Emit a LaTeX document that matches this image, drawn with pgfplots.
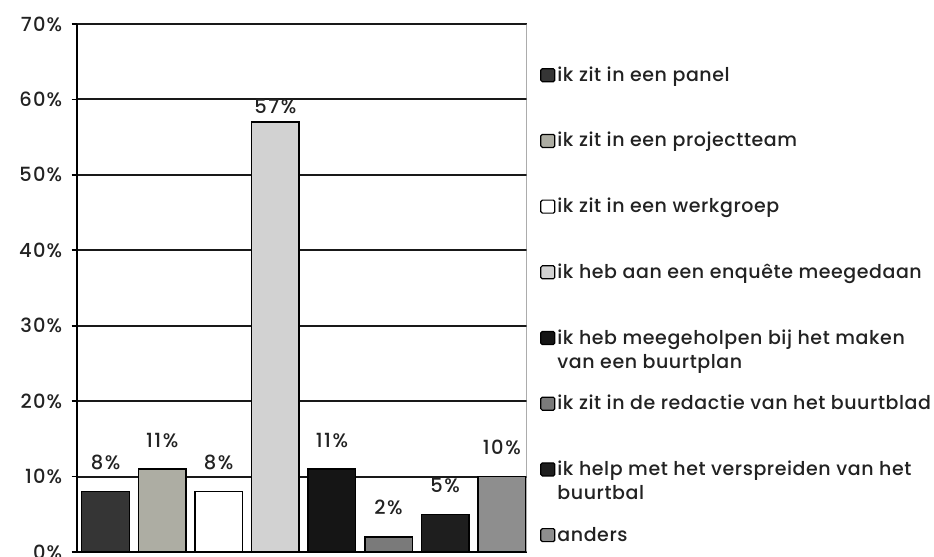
\documentclass[border=0pt]{standalone}
\usepackage{pgfplots}
\pgfplotsset{compat=1.18}
\usepackage{fontspec}
\setmainfont{Poppins}[UprightFont={* Medium}]
\definecolor{txt}{HTML}{222222}
\definecolor{cA}{HTML}{353535}
\definecolor{cB}{HTML}{ADADA3}
\definecolor{cC}{HTML}{FFFFFF}
\definecolor{cD}{HTML}{D2D2D2}
\definecolor{cE}{HTML}{151515}
\definecolor{cF}{HTML}{7A7A7A}
\definecolor{cG}{HTML}{1E1E1E}
\definecolor{cH}{HTML}{8E8E8E}
\begin{document}
\begin{tikzpicture}[x=1bp,y=1bp]
\useasboundingbox (-76.7bp,-5bp) rectangle (857.3bp,552bp);
\begin{axis}[
  scale only axis, width=450bp, height=528bp,
  ybar, bar width=0.84, bar shift=0pt,
  xmin=-0.509, xmax=7.44,
  ymin=0, ymax=70,
  ytick={0,10,...,70},
  xtick=\empty,
  axis y line*=left, axis x line*=bottom,
  axis line style={line width=2bp, draw=black, -},
  ymajorgrids,
  major grid style={line width=2bp, draw=black!90},
  tick align=outside, major tick length=5bp,
  tick style={line width=1.6bp, black},
  /pgf/number format/assume math mode=true,
  yticklabel={\pgfmathprintnumber{\tick}\%},
  yticklabel style={font=\fontsize{19.5bp}{22bp}\selectfont\addfontfeature{LetterSpace=6}, text=txt, xshift=-6bp},
  nodes near coords={\pgfmathprintnumber{\pgfplotspointmeta}\%},
  every node near coord/.append style={font=\fontsize{19.5bp}{22bp}\selectfont\addfontfeature{LetterSpace=8}, text=txt, inner sep=0pt, anchor=south, yshift=21bp},
  every axis plot/.append style={draw=black, line width=1.5bp},
  legend style={draw=none, fill=none, inner sep=0pt, at={(rel axis cs:1,1)}, anchor=north west,
    xshift=13.3bp, yshift=-41bp, row sep=45.7bp,
    font=\fontsize{19bp}{24.5bp}\selectfont\addfontfeature{LetterSpace=3}, text=txt,
    nodes={inner ysep=2bp, inner xsep=2bp, text height=14bp, text depth=2bp},
    cells={anchor=west}},
  legend image code/.code={\draw[#1, line width=1.2bp, rounded corners=1.5bp] (0bp,-6.5bp) rectangle (14bp,6.5bp);},
]
\addplot[fill=cA] coordinates {(0,8)};
\addlegendentry{ik zit in een panel}
\addplot[fill=cB] coordinates {(1,11)};
\addlegendentry{ik zit in een projectteam}
\addplot[fill=cC] coordinates {(2,8)};
\addlegendentry{ik zit in een werkgroep}
\addplot[fill=cD, every node near coord/.append style={yshift=-13bp}] coordinates {(3,57)};
\addlegendentry{ik heb aan een enquête meegedaan}
\addplot[fill=cE] coordinates {(4,11)};
\addlegendentry{\parbox[t]{360bp}{ik heb meegeholpen bij het maken\\van een buurtplan}}
\addplot[fill=cF] coordinates {(5,2)};
\addlegendentry{ik zit in de redactie van het buurtblad}
\addplot[fill=cG] coordinates {(6,5)};
\addlegendentry{\parbox[t]{360bp}{ik help met het verspreiden van het\\buurtbal}}
\addplot[fill=cH] coordinates {(7,10)};
\addlegendentry{anders}
\draw[line width=0.8bp, gray] (rel axis cs:1,0) -- (rel axis cs:1,1);
\end{axis}
\end{tikzpicture}
\end{document}
